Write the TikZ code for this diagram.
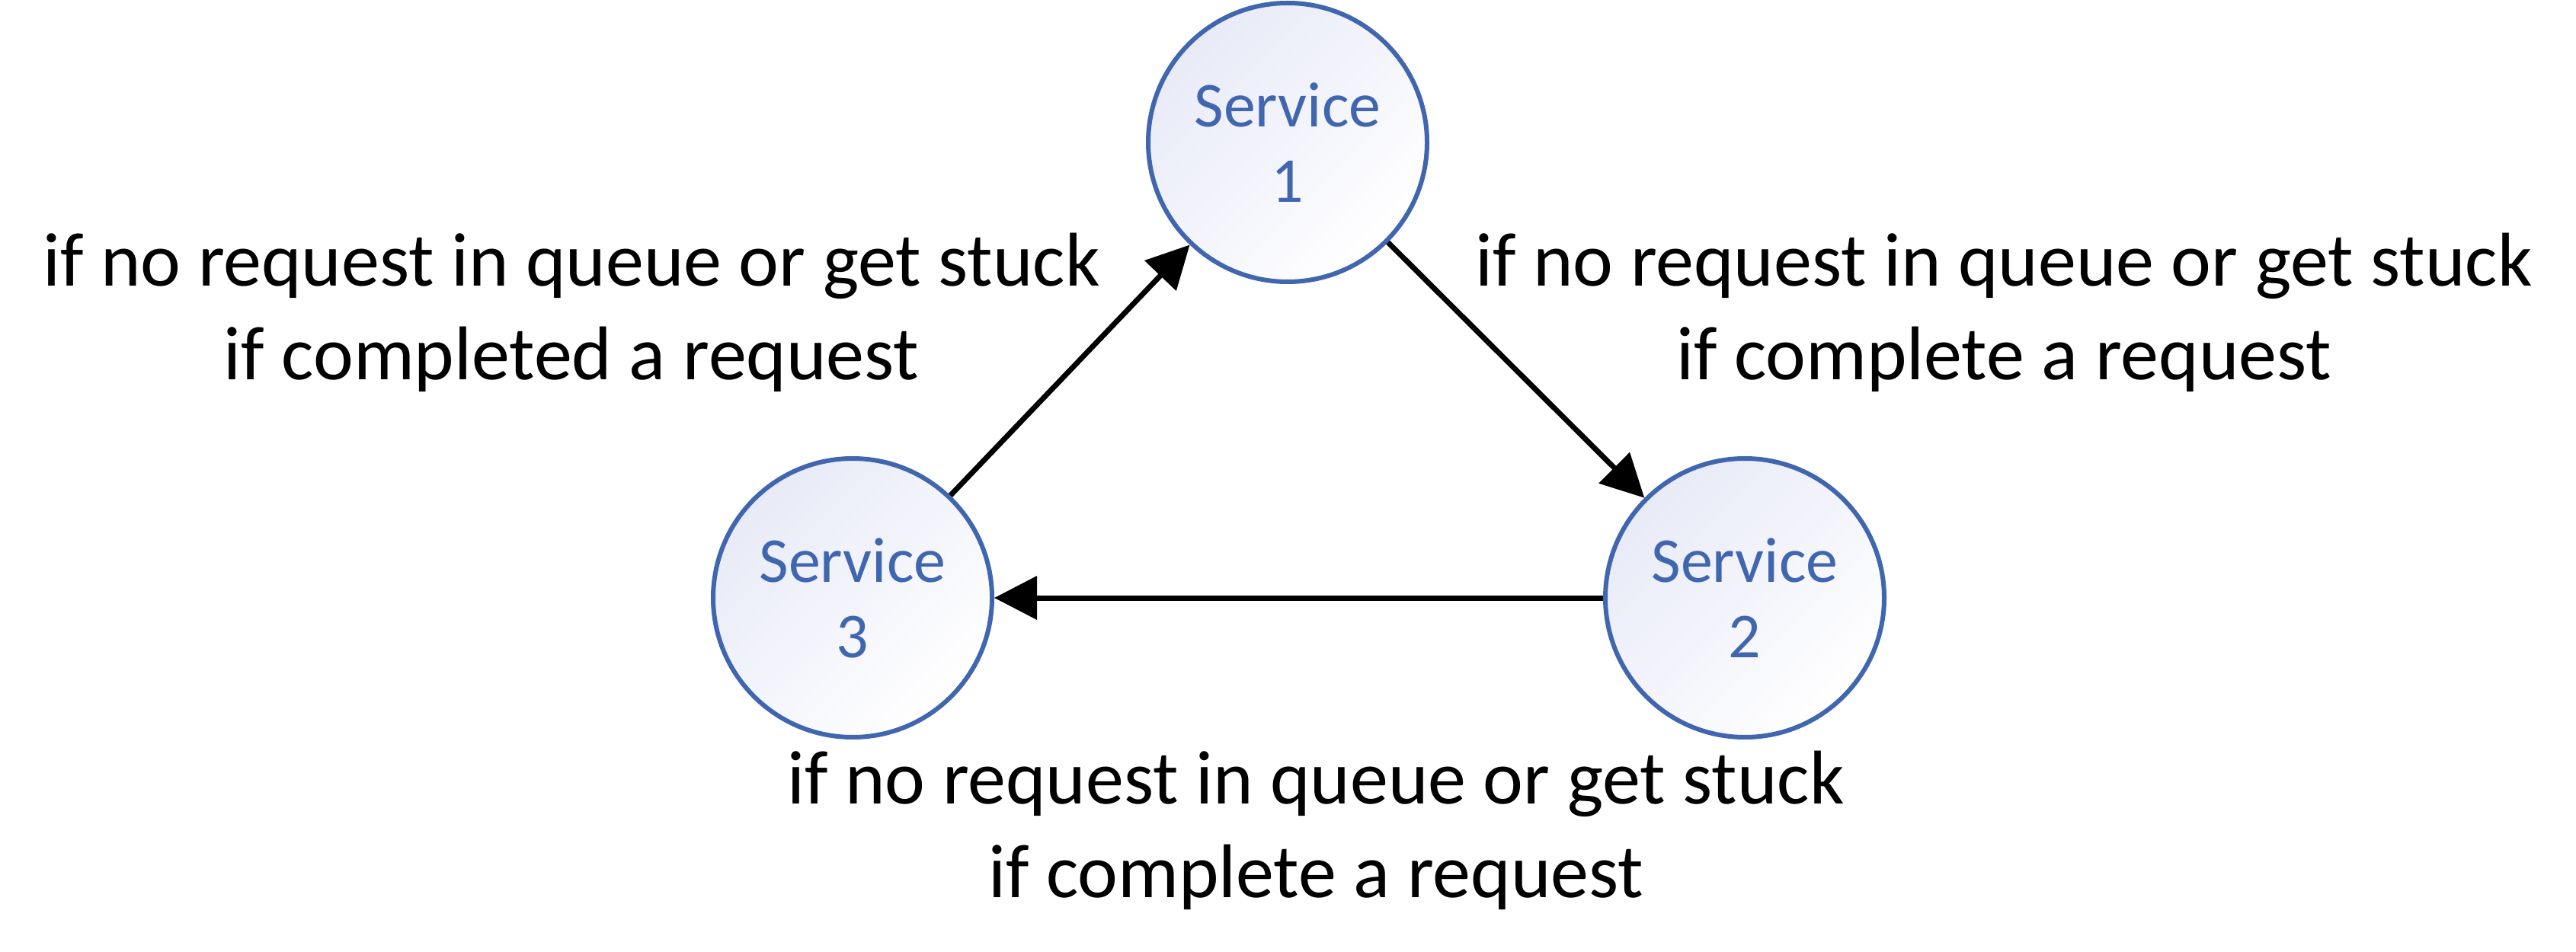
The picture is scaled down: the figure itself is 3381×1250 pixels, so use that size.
\documentclass[tikz,border=0pt]{standalone}
\usepackage{fontspec}
\setmainfont{Carlito}
\usetikzlibrary{arrows.meta}
\definecolor{svcblue}{RGB}{64,102,176}
\definecolor{svcfill}{RGB}{232,234,247}
\tikzset{
  svc/.style={circle, draw=svcblue, line width=1.5pt, minimum size=91.5pt, inner sep=0pt,
    top color=svcfill, bottom color=white, shading angle=45,
    text=svcblue, align=center, font=\fontsize{21}{24.8}\selectfont},
  lbl/.style={align=center, text=black, font=\fontsize{25}{30.75}\selectfont},
  conn/.style={line width=1.75pt, -{Triangle[length=14pt,width=14pt]}}
}
\begin{document}
\begin{tikzpicture}[x=0.25pt,y=-0.25pt]
\useasboundingbox (0,0) rectangle (3381,1250);
\node[svc] (s1) at (1690,187) {Service\\1};
\node[svc] (s2) at (2290,785) {Service\\2};
\node[svc] (s3) at (1119,785) {Service\\3};
\draw[conn] (s3) -- (s1);
\draw[conn] (s1) -- (s2);
\draw[conn] (s2) -- (s3);
\node[lbl] (l31) at (750,410) {if no request in queue or get stuck\\if completed a request};
\node[lbl] (l12) at (2630,410) {if no request in queue or get stuck\\if complete a request};
\node[lbl] (l23) at (1727,1090) {if no request in queue or get stuck\\if complete a request};
\end{tikzpicture}
\end{document}
